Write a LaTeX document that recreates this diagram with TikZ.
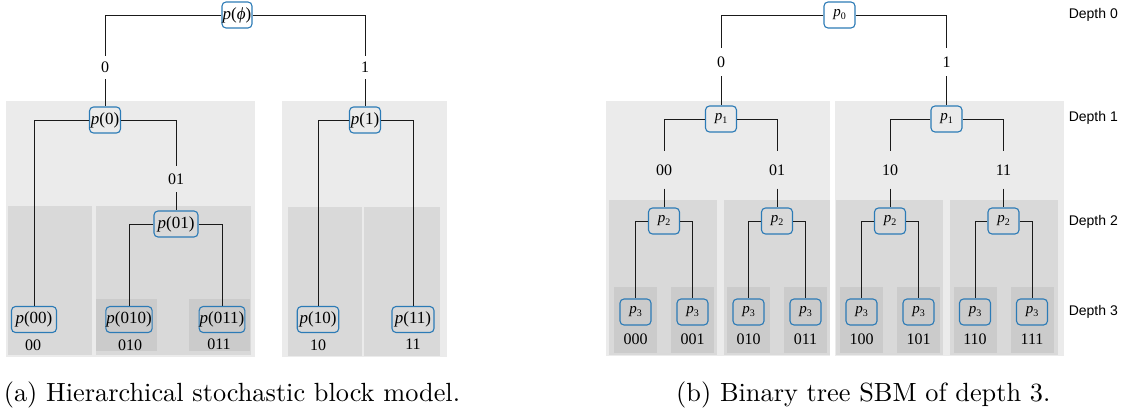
\documentclass[tikz,border=0pt]{standalone}
\usepackage{fontspec}
\newfontfamily\treefont{Liberation Serif}
\newfontfamily\depthfont{Liberation Sans}
\newfontfamily\capfont{lmroman10-regular.otf}
\definecolor{bigbox}{HTML}{EBEBEB}
\definecolor{midbox}{HTML}{D9D9D9}
\definecolor{smallbox}{HTML}{CBCBCB}
\definecolor{nodeblue}{HTML}{2C7BB6}
\definecolor{edgecol}{HTML}{1A1A1A}
\newcommand{\psub}[1]{\textit{p}\raisebox{-3pt}{\fontsize{10}{10}\selectfont #1}}
\begin{document}
\begin{tikzpicture}[x=1pt,y=-1pt,
  pnode/.style={draw=nodeblue, line width=1.1pt, rounded corners=4pt, minimum height=26pt, inner sep=0.5pt, font=\treefont\fontsize{17}{17}\selectfont},
  qnode/.style={pnode, minimum width=31pt, font=\treefont\fontsize{15}{15}\selectfont},
  elabel/.style={inner sep=0pt, font=\treefont\fontsize{16}{16}\selectfont},
  conn/.style={draw=edgecol, line width=0.85pt},
  depthlbl/.style={anchor=east, inner sep=0pt, font=\depthfont\fontsize{14}{14}\selectfont},
  captionlbl/.style={anchor=base west, inner sep=0pt, font=\capfont\fontsize{26.3}{30}\selectfont}]
\useasboundingbox (0,0) rectangle (1127,412);
% ---------- panel (a) boxes ----------
\fill[bigbox] (6,101) rectangle (255,357);
\fill[bigbox] (282,101) rectangle (447,357);
\fill[midbox] (8,206) rectangle (92,355);
\fill[midbox] (96,206) rectangle (251,355);
\fill[midbox] (288,207) rectangle (362,356);
\fill[midbox] (364,207) rectangle (440,356);
\fill[smallbox] (96,299) rectangle (157,351);
\fill[smallbox] (189,299) rectangle (250,351);
% ---------- panel (b) boxes ----------
\fill[bigbox] (606,101) rectangle (830,356);
\fill[bigbox] (835,101) rectangle (1064,356);
\fill[midbox] (609,200) rectangle (717,355);
\fill[midbox] (724,200) rectangle (830,355);
\fill[midbox] (836,200) rectangle (943,355);
\fill[midbox] (950,200) rectangle (1058,355);
\foreach \cx in {635.5,692.5,748.5,805.5,861.5,918.5,975,1032}
  \fill[smallbox] (\cx-21.5,287) rectangle (\cx+21.5,353);
% ---------- panel (a) nodes ----------
\node[pnode, minimum width=30pt] (pphi) at (237,15) {\textit{p}(\textit{ϕ})};
\node[elabel, minimum height=23pt] (l0) at (105,67.5) {0};
\node[elabel, minimum height=23pt] (l1) at (365,67.5) {1};
\node[pnode, minimum width=31pt] (p0) at (105,120) {\textit{p}(0)};
\node[pnode, minimum width=31pt] (p1) at (365,120) {\textit{p}(1)};
\node[elabel, minimum height=26pt] (l01) at (176,179) {01};
\node[pnode, minimum width=44pt] (p01) at (176,224) {\textit{p}(01)};
\node[pnode, minimum width=45pt] (p00) at (34,319.5) {\textit{p}(00)};
\node[pnode, minimum width=45pt] (p010) at (129,319.5) {\textit{p}(010)};
\node[pnode, minimum width=45pt] (p011) at (222,319.5) {\textit{p}(011)};
\node[pnode, minimum width=41.5pt] (p10) at (318,319.5) {\textit{p}(10)};
\node[pnode, minimum width=42pt] (p11) at (413,319.5) {\textit{p}(11)};
\node[elabel] (t00) at (33,345) {00};
\node[elabel] (t010) at (130,345) {010};
\node[elabel] (t011) at (219,344) {011};
\node[elabel] (t10) at (318,345) {10};
\node[elabel] (t11) at (413,344) {11};
\draw[conn] (pphi.west) -| (l0.north);
\draw[conn] (l0.south) -- (p0.north);
\draw[conn] (pphi.east) -| (l1.north);
\draw[conn] (l1.south) -- (p1.north);
\draw[conn] (p0.west) -| (p00.north);
\draw[conn] (p0.east) -| (l01.north);
\draw[conn] (l01.south) -- (p01.north);
\draw[conn] (p01.west) -| (p010.north);
\draw[conn] (p01.east) -| (p011.north);
\draw[conn] (p1.west) -| (p10.north);
\draw[conn] (p1.east) -| (p11.north);
% ---------- panel (b) nodes ----------
\node[qnode] (q0) at (839.5,15) {\psub{0}};
\node[elabel, minimum height=28pt] (m0) at (721,62) {0};
\node[elabel, minimum height=28pt] (m1) at (946.5,62) {1};
\node[qnode] (q1a) at (721,119) {\psub{1}};
\node[qnode] (q1b) at (946.5,119) {\psub{1}};
\node[elabel, minimum height=37pt] (m00) at (664,170) {00};
\node[elabel, minimum height=37pt] (m01) at (777,170) {01};
\node[elabel, minimum height=37pt] (m10) at (890,170) {10};
\node[elabel, minimum height=37pt] (m11) at (1003.5,170) {11};
\node[qnode] (q2a) at (664,221) {\psub{2}};
\node[qnode] (q2b) at (777,221) {\psub{2}};
\node[qnode] (q2c) at (890,221) {\psub{2}};
\node[qnode] (q2d) at (1003.5,221) {\psub{2}};
\node[qnode] (q3a) at (635.5,312) {\psub{3}};
\node[qnode] (q3b) at (692.5,312) {\psub{3}};
\node[qnode] (q3c) at (748.5,312) {\psub{3}};
\node[qnode] (q3d) at (805.5,312) {\psub{3}};
\node[qnode] (q3e) at (861.5,312) {\psub{3}};
\node[qnode] (q3f) at (918.5,312) {\psub{3}};
\node[qnode] (q3g) at (975,312) {\psub{3}};
\node[qnode] (q3h) at (1032,312) {\psub{3}};
\node[elabel] (u000) at (635.5,339) {000};
\node[elabel] (u001) at (692.5,339) {001};
\node[elabel] (u010) at (748.5,339) {010};
\node[elabel] (u011) at (805.5,339) {011};
\node[elabel] (u100) at (861.5,339) {100};
\node[elabel] (u101) at (918.5,339) {101};
\node[elabel] (u110) at (975,339) {110};
\node[elabel] (u111) at (1032,339) {111};
\draw[conn] (q0.west) -| (m0.north);
\draw[conn] (m0.south) -- (q1a.north);
\draw[conn] (q0.east) -| (m1.north);
\draw[conn] (m1.south) -- (q1b.north);
\draw[conn] (q1a.west) -| (m00.north);
\draw[conn] (m00.south) -- (q2a.north);
\draw[conn] (q1a.east) -| (m01.north);
\draw[conn] (m01.south) -- (q2b.north);
\draw[conn] (q1b.west) -| (m10.north);
\draw[conn] (m10.south) -- (q2c.north);
\draw[conn] (q1b.east) -| (m11.north);
\draw[conn] (m11.south) -- (q2d.north);
\draw[conn] (q2a.west) -| (q3a.north);
\draw[conn] (q2a.east) -| (q3b.north);
\draw[conn] (q2b.west) -| (q3c.north);
\draw[conn] (q2b.east) -| (q3d.north);
\draw[conn] (q2c.west) -| (q3e.north);
\draw[conn] (q2c.east) -| (q3f.north);
\draw[conn] (q2d.west) -| (q3g.north);
\draw[conn] (q2d.east) -| (q3h.north);
% ---------- depth labels ----------
\node[depthlbl] (d0) at (1118,15) {Depth 0};
\node[depthlbl] (d1) at (1118,118) {Depth 1};
\node[depthlbl] (d2) at (1118,222) {Depth 2};
\node[depthlbl] (d3) at (1118,312) {Depth 3};
% ---------- captions ----------
\node[captionlbl] (capa) at (3.6,401) {(a) Hierarchical stochastic block model.};
\node[captionlbl] (capb) at (676,401) {(b) Binary tree SBM of depth 3.};
\end{tikzpicture}
\end{document}
